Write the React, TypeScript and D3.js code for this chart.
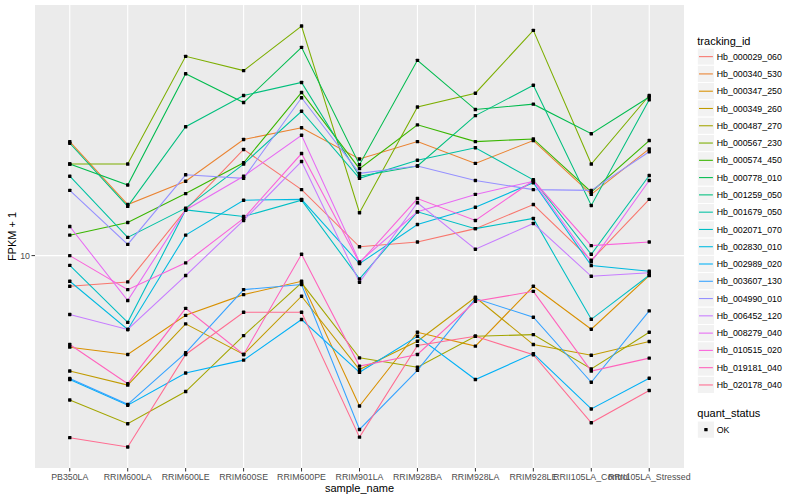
import React from 'react';
import * as d3 from 'd3';

// sample names on the x axis
const categories = [
  'PB350LA', 'RRIM600LA', 'RRIM600LE', 'RRIM600SE', 'RRIM600PE', 'RRIM901LA',
  'RRIM928BA', 'RRIM928LA', 'RRIM928LE', 'RRII105LA_Control', 'RRII105LA_Stressed',
];

// FPKM + 1 per tracking id, one value per sample
const hb000029_060 = [7.9, 8.17, 14.2, 22.6, 16.6, 10.7, 11.1, 12.3, 14.8, 9.65, 15.4];
const hb000340_530 = [24.0, 14.8, 17.7, 24.4, 26.7, 21.0, 24.0, 20.3, 24.2, 16.0, 22.7];
const hb000347_250 = [4.95, 4.68, 6.32, 7.41, 8.21, 3.15, 5.55, 4.99, 7.9, 5.68, 8.58];
const hb000349_260 = [4.12, 3.7, 5.92, 4.68, 7.32, 4.17, 5.18, 7.26, 5.05, 4.65, 5.17];
const hb000487_270 = [3.3, 2.75, 3.52, 5.41, 8.11, 4.56, 4.24, 5.38, 5.45, 4.19, 5.55];
const hb000567_230 = [20.2, 20.2, 46.2, 41.4, 58.3, 13.9, 31.3, 34.8, 56.4, 20.2, 34.2];
const hb000574_450 = [11.7, 12.9, 16.1, 20.4, 35.0, 19.5, 27.3, 24.0, 24.5, 16.3, 24.2];
const hb000778_010 = [20.2, 17.2, 40.4, 32.4, 49.5, 20.1, 44.8, 30.7, 32.0, 25.5, 33.8];
const hb001259_050 = [23.7, 14.6, 26.9, 34.2, 37.8, 18.4, 19.9, 29.3, 37.0, 14.7, 33.1];
const hb001679_050 = [18.4, 11.5, 14.4, 20.2, 30.3, 18.1, 20.8, 22.9, 17.9, 10.1, 18.5];
const hb002071_070 = [9.28, 5.99, 14.2, 13.5, 15.3, 8.36, 14.0, 12.3, 13.3, 6.13, 8.6];
const hb002830_010 = [8.21, 5.67, 11.7, 15.3, 15.4, 9.4, 12.7, 14.5, 17.5, 9.26, 8.87];
const hb002989_020 = [3.86, 3.17, 4.06, 4.48, 6.12, 4.08, 5.38, 3.86, 4.71, 3.08, 3.9];
const hb003607_130 = [3.89, 3.19, 4.74, 7.7, 8.01, 2.63, 4.14, 7.19, 6.23, 3.78, 6.54];
const hb004990_010 = [16.5, 10.9, 18.6, 18.1, 33.6, 18.8, 19.9, 17.8, 16.6, 16.5, 22.2];
const hb006452_120 = [6.36, 5.67, 8.58, 13.1, 20.6, 8.15, 15.0, 10.5, 12.8, 8.53, 8.76];
const hb008279_040 = [12.5, 7.08, 14.2, 18.4, 25.2, 9.53, 14.0, 16.0, 17.7, 9.53, 17.8];
const hb010515_020 = [10.0, 7.7, 9.46, 13.3, 21.9, 9.45, 15.5, 13.1, 17.8, 10.8, 11.1];
const hb019181_040 = [5.05, 3.74, 6.67, 4.68, 10.1, 4.28, 4.68, 7.04, 7.6, 4.12, 4.55];
const hb020178_040 = [2.47, 2.3, 4.68, 6.47, 6.47, 2.48, 5.01, 5.38, 4.67, 2.77, 3.55];

const trackingIds = [
  'Hb_000029_060', 'Hb_000340_530', 'Hb_000347_250', 'Hb_000349_260', 'Hb_000487_270',
  'Hb_000567_230', 'Hb_000574_450', 'Hb_000778_010', 'Hb_001259_050', 'Hb_001679_050',
  'Hb_002071_070', 'Hb_002830_010', 'Hb_002989_020', 'Hb_003607_130', 'Hb_004990_010',
  'Hb_006452_120', 'Hb_008279_040', 'Hb_010515_020', 'Hb_019181_040', 'Hb_020178_040',
];

const seriesValues = [
  hb000029_060, hb000340_530, hb000347_250, hb000349_260, hb000487_270,
  hb000567_230, hb000574_450, hb000778_010, hb001259_050, hb001679_050,
  hb002071_070, hb002830_010, hb002989_020, hb003607_130, hb004990_010,
  hb006452_120, hb008279_040, hb010515_020, hb019181_040, hb020178_040,
];

const yTicks = [10];

// ggplot hue palette, 20 levels
const palette = [
  '#F8766D', '#EA8331', '#D89000', '#C09B00', '#A3A500', '#7CAE00', '#39B600',
  '#00BB4E', '#00BF7D', '#00C1A3', '#00BFC4', '#00BAE0', '#00B0F6', '#35A2FF',
  '#9590FF', '#C77CFF', '#E76BF3', '#FA62DB', '#FF62BC', '#FF6C91',
];

const FONT = '"Liberation Sans", Arial, Helvetica, sans-serif';

const panel = { left: 35, right: 684, top: 5, bottom: 468 };

const App: React.FC = () => {
  const x = d3.scalePoint<string>()
    .domain(categories)
    .range([panel.left, panel.right])
    .padding(0.6);

  // log scale with ggplot's 5% expansion in log space
  const all = seriesValues.flat();
  const lo = Math.log10(d3.min(all) as number);
  const hi = Math.log10(d3.max(all) as number);
  const pad = (hi - lo) * 0.05;
  const y = d3.scaleLog()
    .domain([Math.pow(10, lo - pad), Math.pow(10, hi + pad)])
    .range([panel.bottom, panel.top]);

  const line = d3.line<number>()
    .x((_, i) => x(categories[i]) as number)
    .y(d => y(d));

  const keyH = 17.28;
  const legendX = 697.3;
  const legendTop = 48;

  return (
    <div style={{ position: 'absolute', left: 0, top: 0 }}>
      <svg width={800} height={500} style={{ display: 'block', background: '#fff', fontFamily: FONT }}>
        <rect x={panel.left} y={panel.top} width={panel.right - panel.left}
          height={panel.bottom - panel.top} fill="#EBEBEB" />
        {yTicks.map(t => (
          <line key={t} x1={panel.left} x2={panel.right} y1={y(t)} y2={y(t)}
            stroke="#fff" strokeWidth={1.1} />
        ))}
        {categories.map(c => (
          <line key={c} x1={x(c)} x2={x(c)} y1={panel.top} y2={panel.bottom}
            stroke="#fff" strokeWidth={1.1} />
        ))}

        {seriesValues.map((vals, i) => (
          <path key={trackingIds[i]} d={line(vals) || ''} fill="none"
            stroke={palette[i]} strokeWidth={1.07} />
        ))}
        {seriesValues.map((vals, i) => vals.map((v, j) => (
          <rect key={`${i}-${j}`} x={(x(categories[j]) as number) - 1.7} y={y(v) - 1.7}
            width={3.4} height={3.4} rx={0.6} fill="#000" />
        )))}

        {/* y axis */}
        {yTicks.map(t => (
          <g key={t}>
            <line x1={panel.left - 3.5} x2={panel.left} y1={y(t)} y2={y(t)} stroke="#333" strokeWidth={1} />
            <text x={panel.left - 5} y={y(t)} dy="0.35em" textAnchor="end"
              fontSize={8.8} fill="#4D4D4D">{t}</text>
          </g>
        ))}
        <text transform={`translate(16,${(panel.top + panel.bottom) / 2}) rotate(-90)`}
          textAnchor="middle" fontSize={11} fill="#000">FPKM + 1</text>

        {/* x axis */}
        {categories.map(c => (
          <g key={c}>
            <line x1={x(c)} x2={x(c)} y1={panel.bottom} y2={panel.bottom + 3.5} stroke="#333" strokeWidth={1} />
            <text x={x(c)} y={panel.bottom + 12} textAnchor="middle"
              fontSize={8.8} fill="#4D4D4D">{c}</text>
          </g>
        ))}
        <text x={(panel.left + panel.right) / 2} y={492} textAnchor="middle"
          fontSize={11} fill="#000">sample_name</text>

        {/* legend: tracking_id */}
        <text x={legendX} y={44.5} fontSize={11} fill="#000">tracking_id</text>
        {trackingIds.map((id, i) => {
          const ky = legendTop + i * keyH;
          return (
            <g key={id}>
              <rect x={legendX} y={ky} width={keyH} height={keyH} fill="#F2F2F2"
                stroke="#fff" strokeWidth={1} />
              <line x1={legendX + 1.7} x2={legendX + keyH - 1.7} y1={ky + keyH / 2} y2={ky + keyH / 2}
                stroke={palette[i]} strokeWidth={1.07} />
              <text x={legendX + keyH + 2.2} y={ky + keyH / 2} dy="0.35em"
                fontSize={8.8} fill="#000">{id}</text>
            </g>
          );
        })}

        {/* legend: quant_status */}
        <text x={legendX} y={416.5} fontSize={11} fill="#000">quant_status</text>
        <rect x={legendX} y={421} width={keyH} height={keyH} fill="#F2F2F2" stroke="#fff" strokeWidth={1} />
        <rect x={legendX + keyH / 2 - 1.7} y={421 + keyH / 2 - 1.7} width={3.4} height={3.4} rx={0.6} fill="#000" />
        <text x={legendX + keyH + 2.2} y={421 + keyH / 2} dy="0.35em" fontSize={8.8} fill="#000">OK</text>
      </svg>
    </div>
  );
};

export default App;
